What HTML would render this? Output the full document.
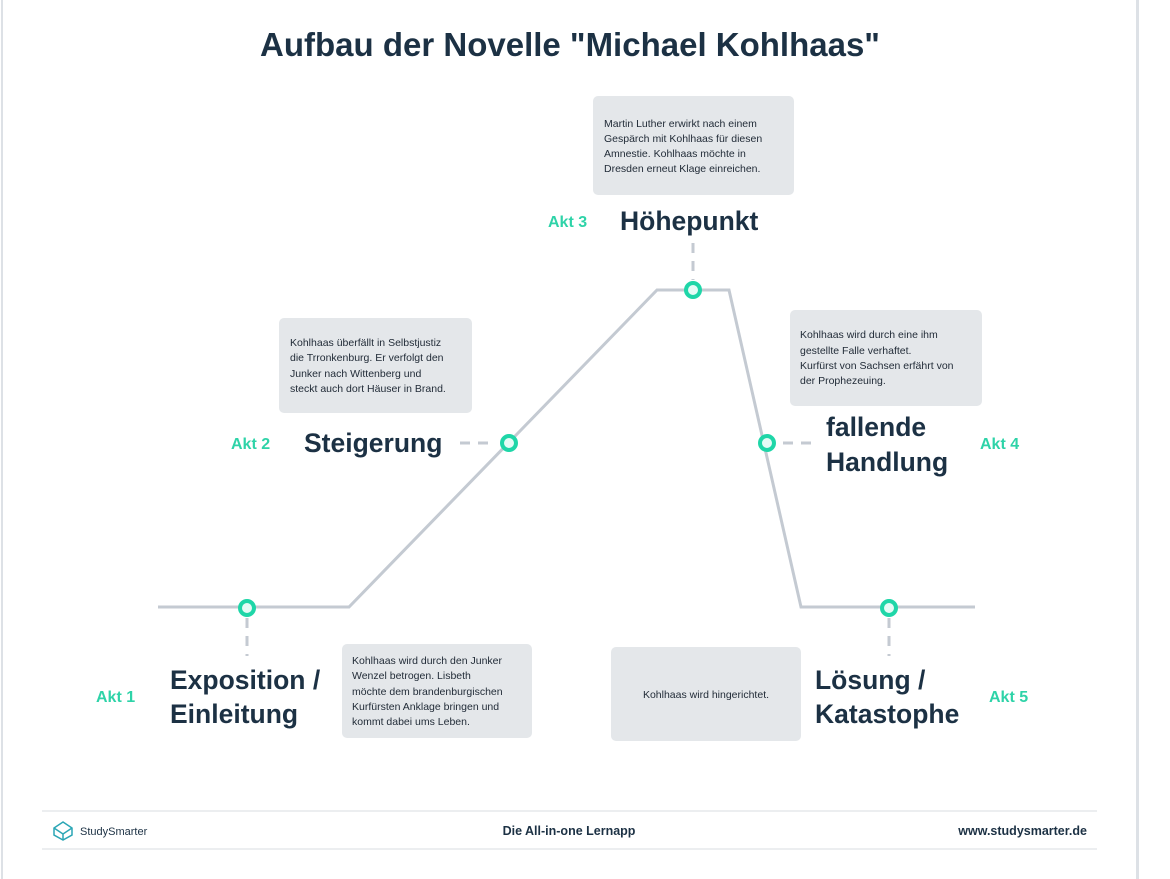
<!DOCTYPE html>
<html><head><meta charset="utf-8"><style>
html,body{margin:0;padding:0;background:#fff;}
svg{display:block;font-family:"Liberation Sans",sans-serif;}
</style></head><body>
<svg width="1170" height="879" viewBox="0 0 1170 879" xmlns="http://www.w3.org/2000/svg">
<rect x="0" y="0" width="1170" height="879" fill="#fff"/>
<rect x="1" y="0" width="2" height="879" fill="#dde1e6"/>
<rect x="1136" y="0" width="3" height="879" fill="#dde1e6"/>
<text x="570" y="56" text-anchor="middle" font-size="33" font-weight="bold" fill="#1c3144">Aufbau der Novelle "Michael Kohlhaas"</text>

<!-- boxes -->
<g fill="#e4e7ea">
<rect x="593" y="96" width="201" height="99" rx="5"/>
<rect x="279" y="318" width="193" height="95" rx="5"/>
<rect x="790" y="310" width="192" height="96" rx="5"/>
<rect x="342" y="644" width="190" height="94" rx="5"/>
<rect x="611" y="647" width="190" height="94" rx="5"/>
</g>
<g font-size="10.5" fill="#222c38">
<text x="604" y="127">Martin Luther erwirkt nach einem</text>
<text x="604" y="142">Gespärch mit Kohlhaas für diesen</text>
<text x="604" y="157">Amnestie. Kohlhaas möchte in</text>
<text x="604" y="172">Dresden erneut Klage einreichen.</text>
<text x="290" y="346">Kohlhaas überfällt in Selbstjustiz</text>
<text x="290" y="361">die Trronkenburg. Er verfolgt den</text>
<text x="290" y="377">Junker nach Wittenberg und</text>
<text x="290" y="392">steckt auch dort Häuser in Brand.</text>
<text x="800" y="338">Kohlhaas wird durch eine ihm</text>
<text x="800" y="354">gestellte Falle verhaftet.</text>
<text x="800" y="369">Kurfürst von Sachsen erfährt von</text>
<text x="800" y="384">der Prophezeuing.</text>
<text x="352" y="664">Kohlhaas wird durch den Junker</text>
<text x="352" y="679">Wenzel betrogen. Lisbeth</text>
<text x="352" y="695">möchte dem brandenburgischen</text>
<text x="352" y="710">Kurfürsten Anklage bringen und</text>
<text x="352" y="725">kommt dabei ums Leben.</text>
<text x="706" y="698" text-anchor="middle">Kohlhaas wird hingerichtet.</text>
</g>

<!-- curve -->
<polyline points="158,607 349,607 657,290 729,290 801,607 975,607" fill="none" stroke="#c4cad2" stroke-width="3"/>
<g stroke="#c4cad2" stroke-width="3" stroke-dasharray="10,8" fill="none">
<line x1="247" y1="618" x2="247" y2="656"/>
<line x1="889" y1="618" x2="889" y2="656"/>
<line x1="693" y1="243" x2="693" y2="280"/>
<line x1="460" y1="443" x2="496" y2="443"/>
<line x1="783" y1="443" x2="819" y2="443"/>
</g>
<g fill="#e6fbf6" stroke="#1fd6a8" stroke-width="4">
<circle cx="247" cy="608" r="7"/>
<circle cx="509" cy="443" r="7"/>
<circle cx="693" cy="290" r="7"/>
<circle cx="767" cy="443" r="7"/>
<circle cx="889" cy="608" r="7"/>
</g>

<!-- labels -->
<g font-size="26.5" font-weight="bold" fill="#1c3144">
<text x="620" y="230">Höhepunkt</text>
<text x="304" y="452">Steigerung</text>
<text x="826" y="436">fallende</text>
<text x="826" y="471">Handlung</text>
<text x="170" y="689">Exposition /</text>
<text x="170" y="723">Einleitung</text>
<text x="815" y="689">Lösung /</text>
<text x="815" y="723">Katastophe</text>
</g>
<g font-size="16" font-weight="bold" fill="#2ed3a8">
<text x="548" y="227">Akt 3</text>
<text x="231" y="449">Akt 2</text>
<text x="980" y="449">Akt 4</text>
<text x="96" y="702">Akt 1</text>
<text x="989" y="702">Akt 5</text>
</g>

<!-- footer -->
<rect x="42" y="810" width="1055" height="2" fill="#eceef0"/>
<rect x="42" y="848" width="1055" height="2" fill="#eceef0"/>
<g transform="translate(63,831)" fill="none" stroke="#2ba6b5" stroke-width="1.5">
<path d="M0,-9 L9,-3 L9,4 L0,9 L-9,4 L-9,-3 Z"/>
<path d="M-9,-3 L0,3 L9,-3 M0,3 L0,9"/>
</g>
<text x="80" y="835" font-size="11" fill="#1c3144">StudySmarter</text>
<text x="569" y="835" text-anchor="middle" font-size="12.5" font-weight="bold" fill="#1c3144">Die All-in-one Lernapp</text>
<text x="1087" y="835" text-anchor="end" font-size="12.5" font-weight="bold" fill="#1c3144">www.studysmarter.de</text>
</svg>
</body></html>
